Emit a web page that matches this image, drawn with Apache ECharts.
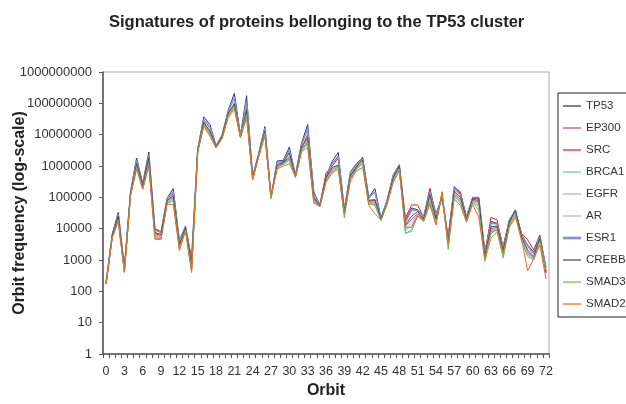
<!DOCTYPE html>
<html>
<head>
<meta charset="utf-8">
<script src="https://cdn.jsdelivr.net/npm/echarts@6/dist/echarts.min.js"></script>
<style>
  html, body { margin: 0; padding: 0; background: #fff; }
  #main { width: 626px; height: 404px; }
</style>
</head>
<body>
<div id="main"></div>
<script>
// orbits 0..72
var orbits = [];
for (var i = 0; i <= 72; i++) orbits.push(String(i));

var proteins = ['TP53', 'EP300', 'SRC', 'BRCA1', 'EGFR', 'AR', 'ESR1', 'CREBB', 'SMAD3', 'SMAD2'];
var colors = ['#2b2f85', '#c0449a', '#e8201e', '#5bc8d8', '#c6a6d8', '#b8b8b8', '#8092c8', '#505050', '#66c24a', '#f06a28'];

var TP53 = [190, 6500, 33000, 600, 140000, 1800000, 280000, 2800000, 10000, 8000,
  95000, 190000, 4200, 12000, 1100, 3500000, 37000000, 21000000, 4500000, 9800000,
  60000000, 210000000, 9500000, 175000000, 450000, 2600000, 18000000, 95000, 1450000, 1500000,
  4000000, 520000, 5400000, 21000000, 150000, 58000, 450000, 1400000, 2700000, 40000,
  650000, 1200000, 1800000, 100000, 190000, 22000, 80000, 520000, 1100000, 18000,
  46000, 40000, 25000, 180000, 30000, 100000, 5500, 220000, 135000, 24000,
  100000, 100000, 1800, 17000, 15000, 2600, 19000, 38000, 6500, 3000,
  1800, 6000, 600];
var EP300 = [175, 5300, 20000, 430, 120000, 1000000, 200000, 1300000, 6000, 5500,
  70000, 95000, 2600, 9500, 500, 3000000, 22000000, 11000000, 4000000, 8200000,
  42000000, 80000000, 8600000, 50000000, 400000, 2200000, 11500000, 100000, 950000, 1150000,
  1800000, 460000, 3300000, 6500000, 85000, 53000, 380000, 800000, 1000000, 30000,
  430000, 850000, 1300000, 70000, 70000, 19500, 68000, 380000, 880000, 12000,
  20000, 30000, 19000, 95000, 17000, 120000, 3500, 140000, 85000, 19000,
  80000, 70000, 1200, 10000, 11000, 1900, 14000, 32000, 5200, 1800,
  1200, 4500, 380];
var SRC = [180, 5500, 22000, 450, 125000, 1100000, 210000, 1500000, 7000, 6000,
  75000, 130000, 3000, 10000, 600, 3100000, 24000000, 12000000, 4000000, 8500000,
  45000000, 90000000, 9000000, 69000000, 420000, 2300000, 12000000, 100000, 1000000, 1250000,
  2000000, 470000, 3600000, 10000000, 100000, 55000, 590000, 1000000, 1800000, 32000,
  500000, 900000, 1900000, 75000, 80000, 20000, 75000, 430000, 950000, 22000,
  57000, 57000, 22000, 195000, 22000, 110000, 4500, 200000, 150000, 22000,
  85000, 80000, 1500, 23000, 19000, 2300, 16000, 35000, 7100, 4400,
  2100, 6300, 450];
var BRCA1 = [170, 5100, 19000, 410, 118000, 950000, 195000, 1200000, 5500, 5200,
  68000, 85000, 2400, 9200, 480, 2950000, 21000000, 10500000, 3900000, 8000000,
  41000000, 78000000, 8400000, 42000000, 390000, 2150000, 10500000, 105000, 900000, 1100000,
  1500000, 440000, 3000000, 5000000, 75000, 51000, 340000, 700000, 900000, 28000,
  400000, 780000, 1200000, 65000, 55000, 19000, 64000, 350000, 820000, 7500,
  8000, 26000, 18000, 80000, 15000, 130000, 3000, 120000, 75000, 18000,
  75000, 50000, 1000, 7000, 9500, 1400, 12500, 29000, 4500, 1500,
  1050, 4200, 420];
var EGFR = [172, 5200, 20000, 420, 120000, 980000, 200000, 1250000, 5800, 5500,
  72000, 90000, 2500, 9300, 490, 2950000, 21000000, 10800000, 3950000, 8100000,
  41000000, 76000000, 8300000, 40000000, 395000, 2150000, 10800000, 102000, 920000, 1120000,
  1600000, 440000, 3100000, 5200000, 78000, 52000, 350000, 720000, 950000, 29000,
  300000, 780000, 1250000, 66000, 60000, 19000, 66000, 360000, 840000, 9000,
  12000, 27000, 18500, 85000, 16000, 110000, 2800, 125000, 80000, 18500,
  76000, 55000, 1100, 8500, 10000, 1600, 13000, 30000, 4700, 1600,
  1100, 4300, 400];
var AR = [175, 5400, 21000, 440, 122000, 1050000, 205000, 1350000, 6200, 5800,
  74000, 100000, 2700, 9600, 520, 3000000, 22000000, 11500000, 4000000, 8300000,
  43000000, 82000000, 8500000, 45000000, 400000, 2200000, 11000000, 100000, 960000, 1150000,
  1900000, 450000, 3300000, 6000000, 82000, 53000, 370000, 780000, 980000, 31000,
  420000, 820000, 1300000, 68000, 65000, 19500, 67000, 370000, 860000, 10000,
  15000, 28000, 19000, 90000, 17000, 115000, 3300, 130000, 82000, 19000,
  78000, 60000, 1150, 9000, 10500, 1700, 13500, 31000, 5000, 1700,
  1150, 4400, 390];
var ESR1 = [185, 6000, 28000, 550, 135000, 1500000, 250000, 2200000, 9000, 7500,
  90000, 150000, 3800, 11000, 900, 3300000, 30000000, 17000000, 4300000, 9300000,
  55000000, 150000000, 9200000, 120000000, 440000, 2500000, 16000000, 98000, 1300000, 1400000,
  3200000, 500000, 4800000, 15000000, 130000, 57000, 430000, 1200000, 2000000, 38000,
  600000, 1100000, 1600000, 95000, 150000, 21000, 78000, 480000, 1050000, 16000,
  40000, 38000, 24000, 150000, 28000, 96000, 5000, 200000, 120000, 23000,
  95000, 95000, 1700, 15000, 14000, 2500, 18000, 36000, 6000, 2800,
  1600, 5500, 550];
var CREBB = [180, 5800, 25000, 500, 130000, 1200000, 230000, 1800000, 7500, 6500,
  80000, 110000, 3000, 10500, 700, 3100000, 25000000, 13000000, 4100000, 8800000,
  48000000, 100000000, 8800000, 60000000, 410000, 2300000, 13000000, 100000, 1100000, 1300000,
  2600000, 460000, 4000000, 7900000, 95000, 54000, 420000, 900000, 1070000, 35000,
  500000, 950000, 1500000, 80000, 85000, 20000, 72000, 420000, 1000000, 13000,
  25000, 35000, 20000, 120000, 20000, 110000, 3800, 160000, 100000, 20000,
  90000, 90000, 1300, 11500, 12000, 2000, 16000, 40000, 5500, 2100,
  1300, 5000, 400];
var SMAD3 = [175, 5200, 18000, 420, 115000, 900000, 190000, 1100000, 4500, 4500,
  65000, 75000, 2300, 9000, 450, 2900000, 20000000, 10000000, 3900000, 7800000,
  40000000, 75000000, 8500000, 45000000, 350000, 2100000, 11000000, 90000, 850000, 1200000,
  1700000, 430000, 3100000, 5500000, 65000, 52000, 320000, 650000, 950000, 22000,
  420000, 800000, 1300000, 60000, 60000, 18000, 65000, 330000, 800000, 7000,
  9000, 25000, 17000, 70000, 14000, 150000, 2200, 110000, 65000, 17000,
  70000, 40000, 900, 5000, 8000, 1150, 12000, 28000, 4000, 1300,
  1000, 4000, 480];
var SMAD2 = [170, 5000, 17000, 400, 110000, 800000, 180000, 1000000, 5000, 4800,
  60000, 60000, 2000, 8500, 400, 2800000, 18000000, 9000000, 3800000, 7500000,
  35000000, 65000000, 8000000, 35000000, 380000, 2000000, 9000000, 110000, 800000, 1000000,
  1200000, 450000, 2800000, 4000000, 70000, 50000, 300000, 600000, 800000, 30000,
  380000, 700000, 900000, 55000, 30000, 19000, 60000, 300000, 700000, 11000,
  11000, 26000, 18000, 60000, 13000, 150000, 3200, 90000, 55000, 16000,
  60000, 23000, 1100, 8000, 9000, 1600, 11000, 23000, 4800, 450,
  1100, 3000, 250];

var seriesValues = [TP53, EP300, SRC, BRCA1, EGFR, AR, ESR1, CREBB, SMAD3, SMAD2];

var myChart = echarts.init(document.getElementById('main'));
var font = 'Liberation Sans, Arial, sans-serif';

var series = proteins.map(function (name, k) {
  return {
    name: name,
    type: 'line',
    data: seriesValues[k],
    symbol: 'none',
    lineStyle: { width: name === 'ESR1' ? 1.5 : 1, color: colors[k] },
    itemStyle: { color: colors[k] }
  };
});

// legend icon: short horizontal line
var legendData = proteins.map(function (name, k) {
  return {
    name: name,
    icon: name === 'ESR1' ? 'path://M0,3.5 L20,3.5 L20,6.5 L0,6.5 Z' : 'path://M0,4.3 L20,4.3 L20,5.7 L0,5.7 Z',
    itemStyle: { color: colors[k] }
  };
});

var option = {
  animation: false,
  backgroundColor: '#fff',
  title: {
    text: 'Signatures of proteins bellonging to the TP53 cluster',
    left: 104,
    top: 9,
    textStyle: { fontFamily: font, fontSize: 16.5, fontWeight: 'bold', color: '#222' }
  },
  legend: {
    orient: 'vertical',
    left: 558,
    top: 93,
    padding: [7, 6, 7, 5],
    itemGap: 10,
    itemWidth: 18,
    itemHeight: 10,
    borderColor: '#222',
    borderWidth: 1,
    data: legendData,
    textStyle: { fontFamily: font, fontSize: 11.5, color: '#333' }
  },
  grid: {
    left: 103,
    top: 72,
    right: 77,
    bottom: 50,
    outerBoundsMode: 'none',
    show: true,
    borderColor: '#a8a8a8',
    borderWidth: 1
  },
  xAxis: {
    type: 'category',
    data: orbits,
    boundaryGap: true,
    name: 'Orbit',
    nameLocation: 'middle',
    nameGap: 29,
    nameMoveOverlap: false,
    nameTextStyle: { fontFamily: font, fontSize: 16, fontWeight: 'bold', color: '#222' },
    axisLine: { lineStyle: { color: '#555', width: 1.5 } },
    axisTick: { show: true, interval: 0, length: 4, lineStyle: { color: '#555' } },
    axisLabel: { interval: 2, margin: 11, fontFamily: font, fontSize: 12.5, color: '#333' },
    splitLine: { show: false }
  },
  yAxis: {
    type: 'log',
    logBase: 10,
    min: 1,
    max: 1000000000,
    name: 'Orbit frequency (log-scale)',
    nameLocation: 'middle',
    nameGap: 75,
    nameMoveOverlap: false,
    nameTextStyle: { fontFamily: font, fontSize: 16, fontWeight: 'bold', color: '#222' },
    axisLine: { show: true, lineStyle: { color: '#555', width: 1.5 } },
    axisTick: { show: true, length: 4, lineStyle: { color: '#555' } },
    axisLabel: {
      margin: 11,
      fontFamily: font,
      fontSize: 13,
      color: '#333',
      formatter: function (v) { return String(Math.round(v)); }
    },
    splitLine: { show: false }
  },
  series: series
};

myChart.setOption(option);
window.addEventListener('resize', function () {
  myChart.resize();
});
</script>
</body>
</html>
